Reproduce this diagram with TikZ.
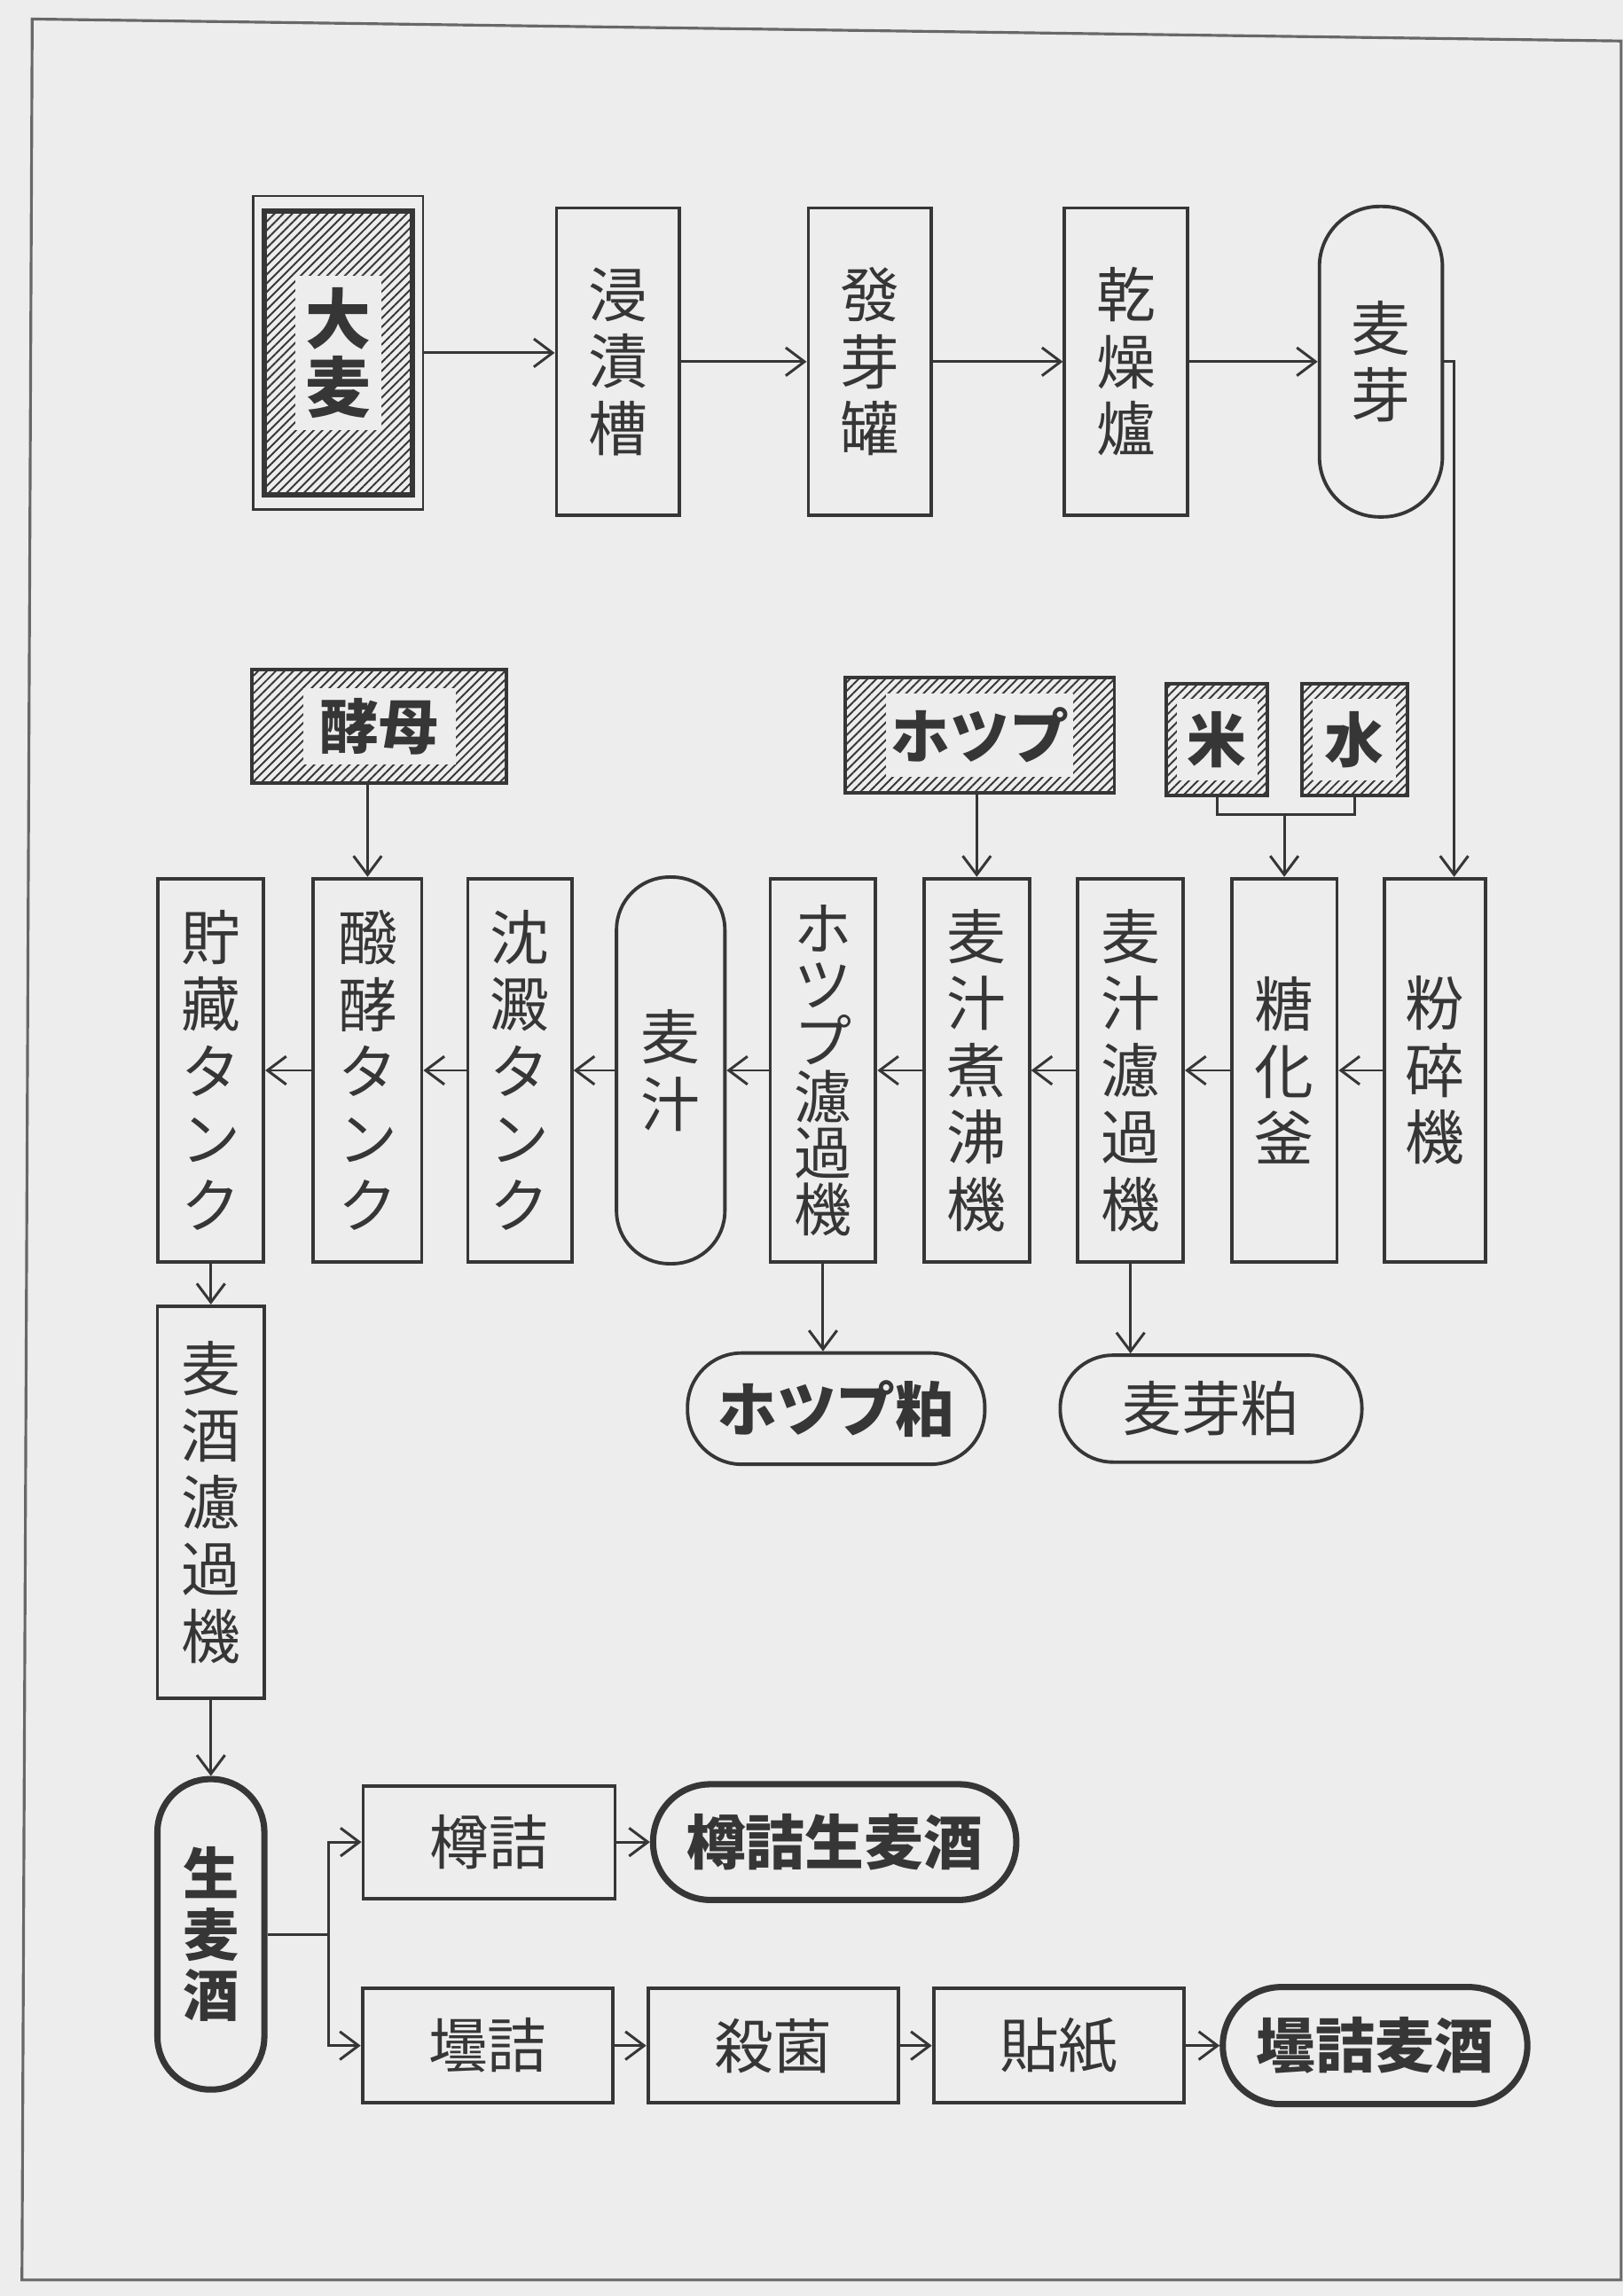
\documentclass[tikz,border=0pt]{standalone}
\usepackage{fontspec}
\setmainfont{Noto Sans CJK JP}
\usetikzlibrary{arrows.meta, patterns.meta}
\definecolor{paper}{HTML}{EDEDED}
\definecolor{ink}{HTML}{363636}
\newcommand\upx{0.16507mm}
\tikzset{
  every picture/.style={line width=1.1pt},
  box/.style={draw=ink, fill=paper, line width=1.1pt, inner sep=0pt, align=center, text=ink, font=\fontsize{19}{21.5}\selectfont},
  pill/.style={box, rounded corners=#1*\upx},
  bold/.style={font=\bfseries\fontsize{19}{21.5}\selectfont},
  heavy/.style={bold, line width=2pt},
  hatch/.style={draw=ink, line width=1.1pt, inner sep=0pt, pattern={Lines[angle=45, distance=2pt, line width=0.55pt]}, pattern color=ink},
  pad/.style={fill=paper, inner sep=0pt, align=center, text=ink, bold},
  arrow/.style={-{Straight Barb[length=6pt, width=9pt]}, draw=ink, line width=0.85pt},
  link/.style={draw=ink, line width=0.85pt},
}
\begin{document}
\begin{tikzpicture}[x=0.16507mm, y=-0.16507mm]
  \fill[paper] (0,0) rectangle (1108,1568);
  \useasboundingbox (0,0) rectangle (1108,1568);
  \draw[ink!75, line width=0.9pt] (22,13) -- (1107,28) -- (1107,1557) -- (15,1557) -- cycle;
  % malting line
  \node[draw=ink, line width=0.7pt, minimum width=116*\upx, minimum height=214*\upx] (oomugi-frame) at (231,241) {};
  \node[hatch, line width=1.8pt, minimum width=101*\upx, minimum height=194*\upx] (oomugi) at (231,241) {};
  \node[pad, minimum width=59*\upx, minimum height=105*\upx, font=\bfseries\fontsize{21}{22}\selectfont] (oomugi-t) at (oomugi) {大\\麦};
  \foreach \n/\x/\t in {shinseki/422/浸\\漬\\槽, hatsuga/594/發\\芽\\罐, kanso/769/乾\\燥\\爐}
    \node[box, minimum width=84*\upx, minimum height=210*\upx] (\n) at (\x,247) {\t};
  \node[pill=41, minimum width=84*\upx, minimum height=212*\upx] (bakuga) at (943,247) {麦\\芽};
  \draw[arrow] (oomugi-frame.east) -- (oomugi-frame.east -| shinseki.west);
  \foreach \a/\b in {shinseki/hatsuga, hatsuga/kanso, kanso/bakuga}
    \draw[arrow] (\a) -- (\b);
  % additions
  \foreach \n/\x/\y/\w/\h/\iw/\ih/\t in {koubo/259/496/174/78/104/52/酵母, hop/669/502/184/79/128/57/ホツプ, kome/831/505/69/76/55/56/米, mizu/925/505/72/76/57/56/水} {
    \node[hatch, minimum width=\w*\upx, minimum height=\h*\upx] (\n) at (\x,\y) {};
    \node[pad, minimum width=\iw*\upx, minimum height=\ih*\upx] (\n-t) at (\n) {\t};
  }
  % brewing line, right to left
  \foreach \n/\x/\w/\t in {chozo/144/72/貯\\藏\\タ\\ン\\ク, hakko/251/74/醱\\酵\\タ\\ン\\ク, chinden/355/71/沈\\澱\\タ\\ン\\ク, futto/667/72/麦\\汁\\煮\\沸\\機, rokaki/772/72/麦\\汁\\濾\\過\\機, toka/877/72/糖\\化\\釜, funsai/980/69/粉\\碎\\機}
    \node[box, minimum width=\w*\upx, minimum height=262*\upx] (\n) at (\x,731) {\t};
  \node[box, minimum width=72*\upx, minimum height=262*\upx, font=\fontsize{18.5}{18}\selectfont] (hopkaki) at (562,731) {ホ\\ツ\\プ\\濾\\過\\機};
  \node[pill=36, minimum width=74*\upx, minimum height=264*\upx] (bakuju) at (458,731) {麦\\汁};
  \foreach \a/\b in {funsai/toka, toka/rokaki, rokaki/futto, futto/hopkaki, hopkaki/bakuju, bakuju/chinden, chinden/hakko, hakko/chozo}
    \draw[arrow] (\a) -- (\b);
  \draw[arrow] (bakuga.east) -| ([xshift=13*\upx]funsai.north);
  \draw[arrow] (koubo.south -| hakko.north) -- (hakko.north);
  \draw[arrow] (hop.south -| futto.north) -- (futto.north);
  \draw[link] (kome.south) -- ++(0,12) coordinate (kmj) -| (mizu.south);
  \draw[arrow] (kmj -| toka.north) -- (toka.north);
  % residues
  \node[pill=37, bold, minimum width=203*\upx, minimum height=76*\upx] (hopkasu) at (571,962) {ホツプ粕};
  \node[pill=36, minimum width=206*\upx, minimum height=73*\upx] (bakugakasu) at (827,962) {麦芽粕};
  \draw[arrow] (hopkaki.south) -- (hopkaki.south |- hopkasu.north);
  \draw[arrow] (rokaki.south) -- (rokaki.south |- bakugakasu.north);
  % filtering and filling
  \node[box, minimum width=73*\upx, minimum height=268*\upx] (birokaki) at (144,1026) {麦\\酒\\濾\\過\\機};
  \node[pill=36, heavy, minimum width=73*\upx, minimum height=212*\upx, font=\bfseries\fontsize{18}{19.5}\selectfont] (namabiiru) at (144,1321) {生\\麦\\酒};
  \draw[arrow] (chozo) -- (birokaki);
  \draw[arrow] (birokaki) -- (namabiiru);
  \node[box, minimum width=172*\upx, minimum height=77*\upx] (taruzume) at (334,1258) {樽詰};
  \node[pill=39, heavy, minimum width=248*\upx, minimum height=79*\upx] (taruzumebiiru) at (570,1258) {樽詰生麦酒};
  \foreach \n/\x/\t in {binzume/333/壜詰, sakkin/528/殺菌, harigami/723/貼紙}
    \node[box, minimum width=171*\upx, minimum height=78*\upx] (\n) at (\x,1397) {\t};
  \node[pill=40, heavy, minimum width=208*\upx, minimum height=80*\upx] (binzumebiiru) at (939,1397) {壜詰麦酒};
  \draw[link] (namabiiru.east) -- ++(42,0) coordinate (split);
  \draw[arrow] (split) |- (taruzume.west);
  \draw[arrow] (split) |- (binzume.west);
  \foreach \a/\b in {taruzume/taruzumebiiru, binzume/sakkin, sakkin/harigami, harigami/binzumebiiru}
    \draw[arrow] (\a) -- (\b);
\end{tikzpicture}
\end{document}
